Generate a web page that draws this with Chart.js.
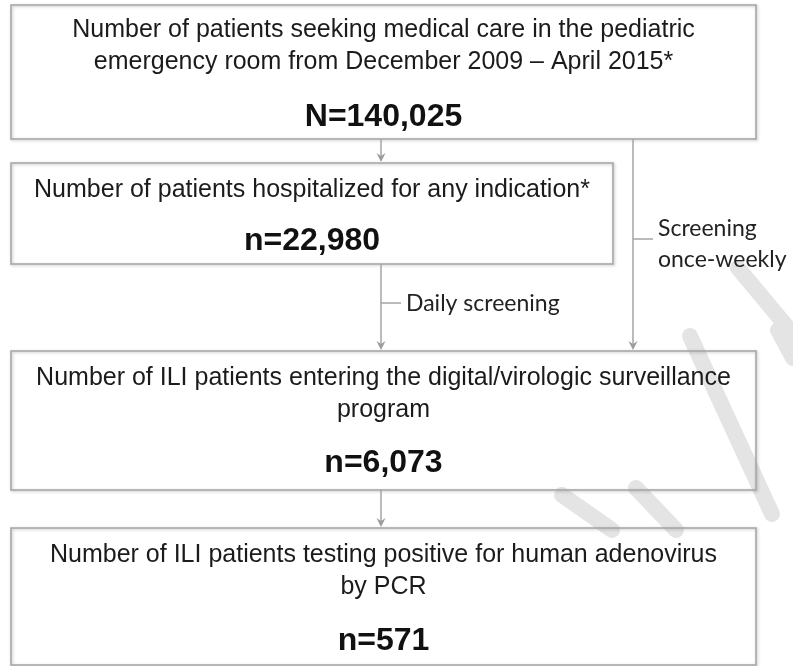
<!DOCTYPE html>
<html>
<head>
<meta charset="utf-8">
<script src="https://cdn.jsdelivr.net/npm/chart.js@4.4.1/dist/chart.umd.min.js"></script>
<style>
  body { margin: 0; background: #fff; }
  canvas { display: block; }
</style>
</head>
<body>
<canvas id="flow" width="793" height="666"></canvas>
<script>
// flowchart content
const boxTitles = [
  ['Number of patients seeking medical care in the pediatric', 'emergency room from December 2009 \u2013 April 2015*'],
  ['Number of patients hospitalized for any indication*'],
  ['Number of ILI patients entering the digital/virologic surveillance', 'program'],
  ['Number of ILI patients testing positive for human adenovirus', 'by PCR'],
];
const countPrefix = ['N', 'n', 'n', 'n'];
const patientCounts = [140025, 22980, 6073, 571];
const screeningLabels = [['Daily screening'], ['Screening', 'once-weekly']];

// layout (canvas units, the scales map 1:1 onto the canvas)
const boxLayout = [
  { x0: 11, x1: 756, y0: 5, y1: 139, lineY: [30, 62], countY: 117 },
  { x0: 11, x1: 613, y0: 163, y1: 264, lineY: [190], countY: 241 },
  { x0: 11, x1: 756, y0: 351, y1: 490, lineY: [378, 410], countY: 463 },
  { x0: 11, x1: 756, y0: 528, y1: 665, lineY: [555, 587], countY: 641 },
];
// connectors: from box -> to box at column x, optional side label
const connectors = [
  { x: 381, from: 0, to: 1 },
  { x: 381, from: 1, to: 2, tickY: 303, tickLen: 20, label: 0, labelY: [304] },
  { x: 633, from: 0, to: 2, tickY: 239, tickLen: 20, label: 1, labelY: [229, 260] },
  { x: 381, from: 2, to: 3 },
];
// faint watermark strokes
const watermark = [
  [[738, 268], [793, 334]],
  [[690, 336], [772, 514]],
  [[778, 330], [793, 358]],
  [[562, 495], [612, 530]],
  [[636, 488], [676, 530]],
];

const boxFont = '25px "Liberation Sans", Arial, sans-serif';
const countFont = 'bold 32px "Liberation Sans", Arial, sans-serif';
const labelFont = '23px Lato, "Open Sans", sans-serif';

const flowPlugin = {
  id: 'flow',
  beforeDraw(chart) {
    const { ctx, scales: { x, y } } = chart;
    ctx.save();
    ctx.strokeStyle = '#e4e4e4';
    ctx.lineWidth = 16;
    ctx.lineCap = 'round';
    watermark.forEach(([a, b]) => {
      ctx.beginPath();
      ctx.moveTo(x.getPixelForValue(a[0]), y.getPixelForValue(a[1]));
      ctx.lineTo(x.getPixelForValue(b[0]), y.getPixelForValue(b[1]));
      ctx.stroke();
    });
    ctx.restore();
  },
  afterDraw(chart) {
    const { ctx, scales: { x, y } } = chart;
    const px = v => x.getPixelForValue(v);
    const py = v => y.getPixelForValue(v);
    ctx.save();

    // boxes
    boxLayout.forEach((b, i) => {
      ctx.save();
      ctx.shadowColor = 'rgba(0,0,0,0.25)';
      ctx.shadowBlur = 3;
      ctx.shadowOffsetX = 1;
      ctx.shadowOffsetY = 1;
      ctx.strokeStyle = '#a8a8a8';
      ctx.lineWidth = 1.6;
      ctx.strokeRect(px(b.x0), py(b.y0), px(b.x1) - px(b.x0), py(b.y1) - py(b.y0));
      ctx.restore();

      const cx = px((b.x0 + b.x1) / 2);
      ctx.fillStyle = '#1b1b1b';
      ctx.textAlign = 'center';
      ctx.textBaseline = 'middle';
      ctx.font = boxFont;
      boxTitles[i].forEach((t, j) => ctx.fillText(t, cx, py(b.lineY[j])));
      ctx.font = countFont;
      ctx.fillStyle = '#111';
      ctx.fillText(countPrefix[i] + '=' + patientCounts[i].toLocaleString('en-US'), cx, py(b.countY));
    });

    // connectors with arrowheads
    ctx.strokeStyle = '#a4a4a4';
    ctx.fillStyle = '#9c9c9c';
    ctx.lineWidth = 1.5;
    connectors.forEach(c => {
      const cx = px(c.x);
      const top = py(boxLayout[c.from].y1);
      const tip = py(boxLayout[c.to].y0) - 1;
      ctx.beginPath();
      ctx.moveTo(cx, top);
      ctx.lineTo(cx, tip - 4);
      ctx.stroke();
      ctx.beginPath();
      ctx.moveTo(cx, tip);
      ctx.lineTo(cx - 4.5, tip - 9);
      ctx.lineTo(cx, tip - 6);
      ctx.lineTo(cx + 4.5, tip - 9);
      ctx.closePath();
      ctx.fill();

      if (c.label !== undefined) {
        ctx.beginPath();
        ctx.moveTo(cx, py(c.tickY));
        ctx.lineTo(cx + c.tickLen, py(c.tickY));
        ctx.stroke();
        ctx.save();
        ctx.fillStyle = '#222';
        ctx.font = labelFont;
        ctx.textAlign = 'left';
        ctx.textBaseline = 'middle';
        screeningLabels[c.label].forEach((t, j) => ctx.fillText(t, cx + c.tickLen + 5, py(c.labelY[j])));
        ctx.restore();
      }
    });
    ctx.restore();
  }
};

new Chart(document.getElementById('flow'), {
  type: 'scatter',
  data: { datasets: [] },
  options: {
    responsive: false,
    animation: false,
    layout: { padding: 0 },
    scales: {
      x: { type: 'linear', min: 0, max: 793, display: false },
      y: { type: 'linear', min: 0, max: 666, reverse: true, display: false },
    },
    plugins: { legend: { display: false }, tooltip: { enabled: false } },
  },
  plugins: [flowPlugin],
});
</script>
</body>
</html>
